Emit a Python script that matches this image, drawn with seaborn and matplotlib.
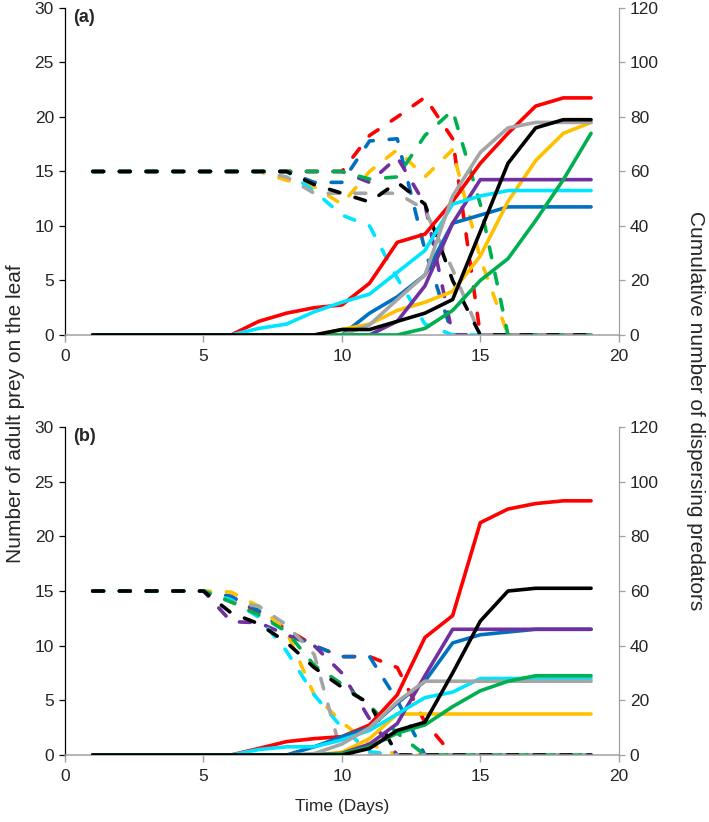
import seaborn as sns
import matplotlib.pyplot as plt

days = list(range(1, 20))

# panel (a): adult prey on the leaf (dashed, left axis)
prey_a_red = [15, 15, 15, 15, 15, 15, 15, 15, 15, 15, 18.3, 20, 21.8, 18, 0, 0, 0, 0, 0]
prey_a_blue = [15, 15, 15, 15, 15, 15, 15, 15, 14, 14, 17.8, 18, 7.8, 0, 0, 0, 0, 0, 0]
prey_a_yellow = [15, 15, 15, 15, 15, 15, 15, 14.2, 13.6, 12, 15, 17, 14.5, 17, 7, 0, 0, 0, 0]
prey_a_purple = [15, 15, 15, 15, 15, 15, 15, 15, 15, 15, 14, 16.3, 12, 0, 0, 0, 0, 0, 0]
prey_a_cyan = [15, 15, 15, 15, 15, 15, 15, 15, 13.2, 11, 10, 5.2, 1, 0, 0, 0, 0, 0, 0]
prey_a_grey = [15, 15, 15, 15, 15, 15, 15, 14.5, 13, 13, 13, 13, 11.5, 6, 0, 0, 0, 0, 0]
prey_a_green = [15, 15, 15, 15, 15, 15, 15, 15, 15, 15, 14.3, 14.5, 18.3, 20.6, 12, 0, 0, 0, 0]
prey_a_black = [15, 15, 15, 15, 15, 15, 15, 15, 13.8, 13, 12.2, 14, 12, 5, 0, 0, 0, 0, 0]

# panel (a): cumulative dispersing predators (solid, right axis)
pred_a_red = [0, 0, 0, 0, 0, 0, 5, 8, 10, 11, 19, 34, 37, 49, 63, 74, 84, 87, 87]
pred_a_blue = [0, 0, 0, 0, 0, 0, 0, 0, 0, 0, 8, 14, 22, 41, 44, 47, 47, 47, 47]
pred_a_yellow = [0, 0, 0, 0, 0, 0, 0, 0, 0, 2, 4, 9, 12, 16, 29, 49, 64, 74, 78]
pred_a_purple = [0, 0, 0, 0, 0, 0, 0, 0, 0, 0, 0, 5, 18, 41, 57, 57, 57, 57, 57]
pred_a_cyan = [0, 0, 0, 0, 0, 0, 2.4, 4, 8.5, 12, 15, 23, 31, 48, 51, 53, 53, 53, 53]
pred_a_grey = [0, 0, 0, 0, 0, 0, 0, 0, 0, 0, 3.7, 13, 22, 51, 67, 76, 78, 78, 78]
pred_a_green = [0, 0, 0, 0, 0, 0, 0, 0, 0, 0, 0, 0, 2.4, 9, 20, 28, 42, 57, 74]
pred_a_black = [0, 0, 0, 0, 0, 0, 0, 0, 0, 2, 2, 5, 8, 13, 38, 63, 76, 79, 79]

# panel (b): adult prey on the leaf
prey_b_red = [15, 15, 15, 15, 15, 14.5, 13, 11.5, 10, 9, 9, 8, 3, 0, 0, 0, 0, 0, 0]
prey_b_blue = [15, 15, 15, 15, 15, 14.5, 13.2, 11.2, 10, 9, 9, 5, 0, 0, 0, 0, 0, 0, 0]
prey_b_yellow = [15, 15, 15, 15, 15, 14.9, 13.6, 11.3, 5.5, 3, 1, 0, 0, 0, 0, 0, 0, 0, 0]
prey_b_purple = [15, 15, 15, 15, 15, 12.2, 12.1, 11, 10, 7.5, 3.3, 0, 0, 0, 0, 0, 0, 0, 0]
prey_b_cyan = [15, 15, 15, 15, 15, 14.2, 12.6, 9.5, 5.5, 2.5, 0.3, 0, 0, 0, 0, 0, 0, 0, 0]
prey_b_grey = [15, 15, 15, 15, 15, 14, 13.6, 11.9, 9.2, 0, 0, 0, 0, 0, 0, 0, 0, 0, 0]
prey_b_green = [15, 15, 15, 15, 15, 14, 12.8, 11.3, 8.2, 6.5, 4.5, 2, 0, 0, 0, 0, 0, 0, 0]
prey_b_black = [15, 15, 15, 15, 15, 13, 12, 10.3, 8, 6.2, 4.7, 0, 0, 0, 0, 0, 0, 0, 0]

# panel (b): cumulative dispersing predators
pred_b_red = [0, 0, 0, 0, 0, 0, 2.4, 4.9, 6, 6.7, 11, 22, 43, 51, 85, 90, 92, 93, 93]
pred_b_blue = [0, 0, 0, 0, 0, 0, 0, 0, 3, 6.7, 10, 19, 27, 41, 44, 45, 46, 46, 46]
pred_b_yellow = [0, 0, 0, 0, 0, 0, 0, 0, 0, 1, 6, 15, 15, 15, 15, 15, 15, 15, 15]
pred_b_purple = [0, 0, 0, 0, 0, 0, 0, 0, 0, 0.6, 4, 11.5, 29, 46, 46, 46, 46, 46, 46]
pred_b_cyan = [0, 0, 0, 0, 0, 0, 2, 3, 3, 5.5, 9, 15, 21, 23, 28, 28, 28, 28, 28]
pred_b_grey = [0, 0, 0, 0, 0, 0, 0, 0, 0.5, 4, 10, 19.5, 27, 27, 27, 27, 27, 27, 27]
pred_b_green = [0, 0, 0, 0, 0, 0, 0, 0, 0, 0.5, 3, 8, 11, 17.7, 23.5, 27, 29, 29, 29]
pred_b_black = [0, 0, 0, 0, 0, 0, 0, 0, 0, 0, 2.4, 9, 12, 30, 49, 60, 61, 61, 61]

line_colors = ['#FF0000', '#0070C0', '#FFC000', '#7030A0', '#00E5FF', '#A5A5A5', '#00B050', '#000000']

prey_a = [prey_a_red, prey_a_blue, prey_a_yellow, prey_a_purple, prey_a_cyan, prey_a_grey, prey_a_green, prey_a_black]
pred_a = [pred_a_red, pred_a_blue, pred_a_yellow, pred_a_purple, pred_a_cyan, pred_a_grey, pred_a_green, pred_a_black]
prey_b = [prey_b_red, prey_b_blue, prey_b_yellow, prey_b_purple, prey_b_cyan, prey_b_grey, prey_b_green, prey_b_black]
pred_b = [pred_b_red, pred_b_blue, pred_b_yellow, pred_b_purple, pred_b_cyan, pred_b_grey, pred_b_green, pred_b_black]

sns.set_style('ticks')
plt.rcParams['font.family'] = ['Liberation Sans', 'DejaVu Sans']

fig = plt.figure(figsize=(7.09, 8.22), dpi=100)
ax_a = fig.add_axes([0.0917, 0.5925, 0.781, 0.3978])
ax_b = fig.add_axes([0.0917, 0.0815, 0.781, 0.3990])


def draw_panel(ax, prey, pred, tag):
    ax2 = ax.twinx()
    for vals, c in zip(prey, line_colors):
        sns.lineplot(x=days, y=vals, ax=ax, color=c, lw=2.6,
                     linestyle=(0, (3.0, 4.4)), dash_capstyle='round')
    for vals, c in zip(pred, line_colors):
        sns.lineplot(x=days, y=vals, ax=ax2, color=c, lw=2.6)

    ax.set_xlim(0, 20)
    ax.set_ylim(0, 30)
    ax2.set_ylim(0, 120)
    ax.set_xticks(range(0, 21, 5))
    ax.set_yticks(range(0, 31, 5))
    ax2.set_yticks(range(0, 121, 20))
    ax.set_ylabel('')
    ax2.set_ylabel('')

    ax.spines['top'].set_visible(False)
    ax2.spines['top'].set_visible(False)
    ax2.spines['left'].set_visible(False)
    ax2.spines['bottom'].set_visible(False)
    ax.spines['right'].set_visible(False)
    ax.spines['left'].set_color('#000000')
    ax.spines['left'].set_linewidth(0.9)
    ax.spines['bottom'].set_color('#A0A0A0')
    ax.spines['bottom'].set_linewidth(1.1)
    ax2.spines['right'].set_color('#A0A0A0')
    ax2.spines['right'].set_linewidth(0.9)
    ax.tick_params(axis='y', labelsize=12.5, length=4, width=0.9, color='black', pad=4)
    ax.tick_params(axis='x', labelsize=12.5, length=5, width=1.0, color='#A0A0A0', pad=5)
    ax2.tick_params(axis='y', labelsize=12.5, length=4, width=0.9, color='#A0A0A0', pad=4)
    ax.text(0.014, 0.998, tag, transform=ax.transAxes, fontsize=13,
            fontweight='bold', va='top', ha='left')
    return ax2


draw_panel(ax_a, prey_a, pred_a, '(a)')
draw_panel(ax_b, prey_b, pred_b, '(b)')

ax_b.set_xlabel('Time (Days)', fontsize=12.5, labelpad=11)
fig.text(0.022, 0.497, 'Number of adult prey on the leaf', rotation=90,
         ha='center', va='center', fontsize=15)
fig.text(0.981, 0.501, 'Cumulative number of dispersing predators', rotation=270,
         ha='center', va='center', fontsize=15)

fig.savefig('out.png', dpi=100)
